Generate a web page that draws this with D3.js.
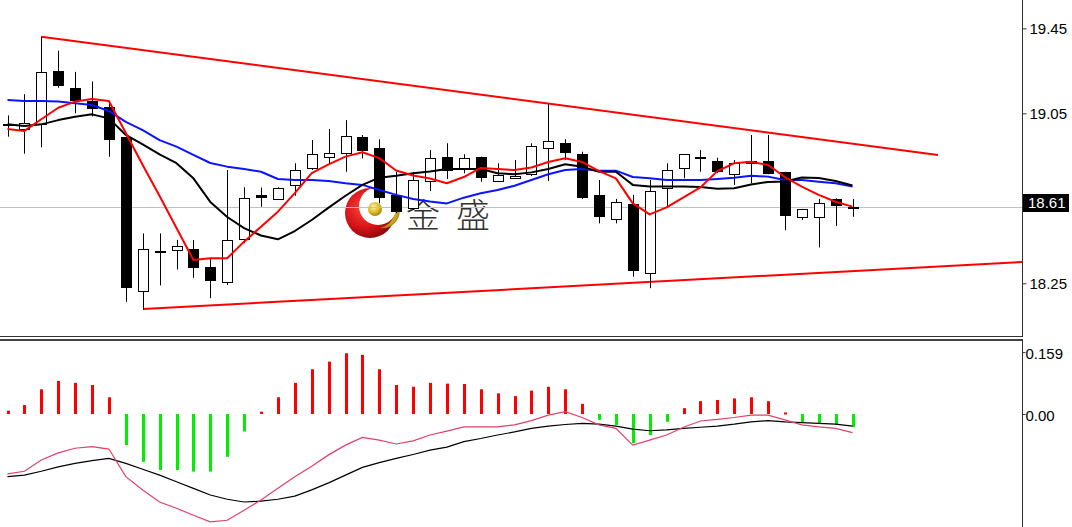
<!DOCTYPE html>
<html>
<head>
<meta charset="utf-8">
<script src="https://cdn.jsdelivr.net/npm/d3@7/dist/d3.min.js"></script>
<style>
html,body{margin:0;padding:0;background:#fff;}
svg{display:block;}
</style>
</head>
<body>
<svg id="chart" width="1072" height="527"></svg>
<script>
// ---------- data ----------
const opens = [18.995,18.975,19.00,19.25,19.17,19.108,19.08,18.94,18.215,18.40,18.407,18.41,18.328,18.258,18.457,18.666,18.647,18.713,18.794,18.846,18.862,18.94,18.888,18.666,18.603,18.731,18.846,18.791,18.846,18.731,18.744,18.763,18.888,18.909,18.858,18.666,18.551,18.622,18.297,18.697,18.794,18.843,18.826,18.764,18.815,18.826,18.775,18.563,18.563,18.645,18.603];
const highs = [19.04,19.14,19.41,19.345,19.245,19.20,19.10,18.94,18.485,18.485,18.454,18.454,18.37,18.783,18.702,18.70,18.702,18.815,18.924,18.976,19.018,18.948,18.928,18.774,18.774,18.877,18.909,18.857,18.846,18.815,18.83,18.909,19.094,18.928,18.869,18.736,18.647,18.666,18.736,18.815,18.857,18.877,18.841,18.83,18.948,18.948,18.775,18.60,18.647,18.65,18.647];
const lows = [18.94,18.86,18.89,19.17,19.05,19.035,18.845,18.163,18.125,18.24,18.315,18.276,18.18,18.242,18.438,18.61,18.645,18.662,18.783,18.81,18.775,18.838,18.627,18.58,18.595,18.684,18.741,18.768,18.728,18.731,18.744,18.755,18.731,18.83,18.647,18.532,18.532,18.281,18.227,18.606,18.744,18.775,18.769,18.713,18.72,18.763,18.50,18.548,18.419,18.52,18.563];
const closes = [19.00,19.005,19.245,19.18,19.108,19.07,18.925,18.227,18.41,18.402,18.426,18.32,18.262,18.454,18.653,18.65,18.697,18.783,18.857,18.862,18.945,18.873,18.65,18.584,18.736,18.838,18.78,18.838,18.744,18.76,18.756,18.896,18.92,18.862,18.65,18.563,18.634,18.308,18.684,18.783,18.857,18.845,18.775,18.815,18.826,18.763,18.568,18.60,18.629,18.614,18.61];

const maRed = [18.976,18.967,19.022,19.076,19.105,19.117,19.108,18.957,18.807,18.661,18.510,18.360,18.368,18.368,18.446,18.516,18.587,18.674,18.768,18.810,18.846,18.867,18.839,18.781,18.757,18.743,18.721,18.750,18.793,18.788,18.783,18.795,18.821,18.838,18.821,18.778,18.744,18.626,18.574,18.607,18.654,18.701,18.778,18.815,18.822,18.807,18.750,18.705,18.666,18.634,18.611];
const maBlack = [18.998,18.990,18.998,19.018,19.034,19.045,19.026,18.948,18.904,18.857,18.815,18.744,18.633,18.562,18.510,18.475,18.457,18.496,18.548,18.606,18.662,18.713,18.747,18.756,18.768,18.776,18.788,18.788,18.788,18.768,18.763,18.772,18.788,18.810,18.799,18.775,18.775,18.713,18.705,18.705,18.705,18.703,18.695,18.697,18.715,18.727,18.729,18.748,18.746,18.731,18.710];
const maBlue = [19.113,19.108,19.108,19.105,19.097,19.089,19.061,19.010,18.971,18.924,18.893,18.854,18.816,18.799,18.788,18.775,18.741,18.736,18.736,18.731,18.721,18.713,18.689,18.666,18.647,18.635,18.626,18.653,18.674,18.689,18.709,18.736,18.763,18.783,18.788,18.780,18.780,18.750,18.744,18.736,18.736,18.736,18.741,18.747,18.756,18.752,18.736,18.736,18.728,18.721,18.705];

const macdHist = [0.0085,0.023,0.0635,0.085,0.080,0.0745,0.043,-0.080,-0.123,-0.144,-0.144,-0.148,-0.148,-0.110,-0.045,0.006,0.043,0.080,0.115,0.1345,0.156,0.152,0.115,0.0745,0.070,0.080,0.078,0.077,0.0635,0.053,0.046,0.060,0.070,0.0635,0.026,-0.015,-0.028,-0.075,-0.054,-0.020,0.015,0.033,0.036,0.040,0.043,0.033,0.004,-0.022,-0.024,-0.028,-0.034];
const macdDif = [-0.154,-0.147,-0.118,-0.100,-0.088,-0.084,-0.090,-0.161,-0.195,-0.226,-0.242,-0.260,-0.277,-0.273,-0.247,-0.221,-0.191,-0.161,-0.134,-0.105,-0.080,-0.060,-0.067,-0.077,-0.069,-0.054,-0.044,-0.033,-0.033,-0.033,-0.028,-0.017,-0.003,0.006,-0.009,-0.028,-0.037,-0.080,-0.067,-0.054,-0.034,-0.018,-0.014,-0.009,-0.003,-0.003,-0.015,-0.028,-0.033,-0.037,-0.048];
const macdDea = [-0.161,-0.157,-0.147,-0.136,-0.127,-0.120,-0.114,-0.127,-0.142,-0.157,-0.174,-0.191,-0.208,-0.219,-0.226,-0.224,-0.219,-0.211,-0.195,-0.177,-0.157,-0.137,-0.125,-0.114,-0.104,-0.093,-0.085,-0.071,-0.063,-0.054,-0.046,-0.037,-0.031,-0.027,-0.024,-0.026,-0.031,-0.039,-0.043,-0.041,-0.037,-0.034,-0.031,-0.026,-0.020,-0.017,-0.020,-0.022,-0.024,-0.026,-0.031];

const trendUpper = [[2, 19.41], [55.06, 18.854]];
const trendLower = [[8.02, 18.129], [60.03, 18.350]];

const priceTicks = [19.45, 19.05, 18.65, 18.25];
const priceTickLabels = ["19.45", "19.05", "18.65", "18.25"];
const macdTicks = [0.159, 0];
const macdTickLabels = ["0.159", "0.00"];
const lastPrice = 18.61;
const lastPriceLabel = "18.61";
const watermarkText = ["金", "盛"];

// ---------- layout ----------
const W = 1072, H = 527;
const axisX = 1022;
const mainTop = 0, mainBottom = 337;
const subTop = 341, subBottom = 527;

const svg = d3.select("#chart");
const defs = svg.append("defs");
defs.append("clipPath").attr("id","clipMain").append("rect")
  .attr("x",0).attr("y",mainTop).attr("width",axisX).attr("height",mainBottom-mainTop);
defs.append("clipPath").attr("id","clipSub").append("rect")
  .attr("x",0).attr("y",subTop).attr("width",axisX).attr("height",subBottom-subTop);

const rg = defs.append("radialGradient").attr("id","redG").attr("cx","40%").attr("cy","40%").attr("r","65%");
rg.append("stop").attr("offset","0%").attr("stop-color","#ff4a3a");
rg.append("stop").attr("offset","60%").attr("stop-color","#d8141a");
rg.append("stop").attr("offset","100%").attr("stop-color","#8a0508");
const gg = defs.append("radialGradient").attr("id","goldG").attr("cx","40%").attr("cy","35%").attr("r","70%");
gg.append("stop").attr("offset","0%").attr("stop-color","#fff4a0");
gg.append("stop").attr("offset","55%").attr("stop-color","#e2bc2a");
gg.append("stop").attr("offset","100%").attr("stop-color","#9c7a08");

// scales
const x = d3.scaleLinear().domain([0, 50]).range([7.5, 852.5]);
const yP = d3.scaleLinear().domain([18.25, 19.45]).range([283.3, 28.3]);
const yM = d3.scaleLinear().domain([0, 0.159]).range([414, 352.1]);

svg.append("rect").attr("width",W).attr("height",H).attr("fill","#fff");

// ---------- main panel ----------
const main = svg.append("g").attr("clip-path","url(#clipMain)");

// watermark (behind everything)
const wm = main.append("g");
wm.append("circle").attr("cx",370).attr("cy",213).attr("r",25).attr("fill","url(#redG)");
wm.append("circle").attr("cx",378).attr("cy",206).attr("r",19).attr("fill","#fff");
wm.append("path")
  .attr("d","M392,197 A17,17 0 0 1 380,228 A20,20 0 0 0 392,197 Z")
  .attr("fill","url(#goldG)");
wm.append("circle").attr("cx",375).attr("cy",209).attr("r",7).attr("fill","url(#goldG)");
wm.selectAll("text.wm").data(watermarkText).enter().append("text")
  .attr("class","wm")
  .attr("x",(d,i)=>423 + i*50).attr("y",228)
  .attr("text-anchor","middle")
  .attr("font-family","'Noto Sans CJK SC','Noto Sans CJK JP',sans-serif")
  .attr("font-size",34).attr("font-weight",300)
  .attr("fill","#333")
  .text(d=>d);

// last price line
const yLast = Math.round(yP(lastPrice)) + 0.5;
main.append("line").attr("x1",0).attr("x2",axisX).attr("y1",yLast).attr("y2",yLast)
  .attr("stroke","#c0c0c0").attr("stroke-width",1);

// trend lines
const tline = d3.line().x(d=>x(d[0])).y(d=>yP(d[1]));
[trendUpper, trendLower].forEach(t=>{
  main.append("path").attr("d",tline(t)).attr("fill","none")
    .attr("stroke","#ff0000").attr("stroke-width",2);
});

// candles
const idx = d3.range(opens.length);
const cg = main.append("g");
idx.forEach(i=>{
  const cx = Math.round(x(i));
  const o = opens[i], c = closes[i], h = highs[i], l = lows[i];
  cg.append("line").attr("x1",cx+0.5).attr("x2",cx+0.5)
    .attr("y1",yP(h)).attr("y2",yP(l)).attr("stroke","#000").attr("stroke-width",1);
  const top = yP(Math.max(o,c)), bot = yP(Math.min(o,c));
  if (c >= o) {
    const t = Math.round(top)+0.5, b = Math.max(Math.round(bot)+0.5, t+1);
    cg.append("rect").attr("x",cx-4.5).attr("y",t).attr("width",10).attr("height",b-t)
      .attr("fill","#fff").attr("stroke","#000").attr("stroke-width",1);
  } else {
    const t = Math.round(top), b = Math.max(Math.round(bot), t+2);
    cg.append("rect").attr("x",cx-5).attr("y",t).attr("width",11).attr("height",b-t)
      .attr("fill","#000");
  }
});

// moving averages
const maLine = d3.line().x((d,i)=>x(i)).y(d=>yP(d));
[[maBlue,"#0a14ff"],[maBlack,"#000000"],[maRed,"#ff0000"]].forEach(([arr,col])=>{
  main.append("path").attr("d",maLine(arr)).attr("fill","none")
    .attr("stroke",col).attr("stroke-width",2).attr("stroke-linejoin","round");
});

// ---------- sub panel (MACD) ----------
const sub = svg.append("g").attr("clip-path","url(#clipSub)");
idx.forEach(i=>{
  const v = macdHist[i];
  const cx = Math.round(x(i));
  const y0 = yM(0), y1 = yM(v);
  sub.append("rect").attr("x",cx-1).attr("width",3)
    .attr("y",Math.min(y0,y1)).attr("height",Math.max(2,Math.abs(y1-y0)))
    .attr("fill", v >= 0 ? "#ff0000" : "#00ee00");
});
const mLine = d3.line().x((d,i)=>x(i)).y(d=>yM(d));
sub.append("path").attr("d",mLine(macdDea)).attr("fill","none").attr("stroke","#000").attr("stroke-width",1.2);
sub.append("path").attr("d",mLine(macdDif)).attr("fill","none").attr("stroke","#e0406a").attr("stroke-width",1.2);

// ---------- frame & axes ----------
svg.append("line").attr("x1",0).attr("x2",axisX).attr("y1",mainBottom-0.5).attr("y2",mainBottom-0.5)
  .attr("stroke","#333").attr("stroke-width",1);
svg.append("line").attr("x1",0).attr("x2",axisX).attr("y1",subTop-1).attr("y2",subTop-1)
  .attr("stroke","#444").attr("stroke-width",2);
svg.append("line").attr("x1",axisX+0.5).attr("x2",axisX+0.5).attr("y1",0).attr("y2",mainBottom)
  .attr("stroke","#333").attr("stroke-width",1);
svg.append("line").attr("x1",axisX+0.5).attr("x2",axisX+0.5).attr("y1",subTop-2).attr("y2",H)
  .attr("stroke","#333").attr("stroke-width",1);

const fontFam = "'Liberation Sans', Arial, sans-serif";
const pAxis = d3.axisRight(yP).tickValues(priceTicks).tickSize(4)
  .tickFormat((d,i)=>priceTickLabels[i]);
const pg = svg.append("g").attr("transform",`translate(${axisX+0.5},0)`).call(pAxis);
pg.select(".domain").remove();
pg.selectAll("text").attr("font-family",fontFam).attr("font-size",15).attr("fill","#000").attr("x",7).attr("dy","0.32em");
pg.selectAll("line").attr("stroke","#333");

const mAxis = d3.axisRight(yM).tickValues(macdTicks).tickSize(3)
  .tickFormat((d,i)=>macdTickLabels[i]);
const mg = svg.append("g").attr("transform",`translate(${axisX+0.5},0)`).call(mAxis);
mg.select(".domain").remove();
mg.selectAll("text").attr("font-family",fontFam).attr("font-size",15).attr("fill","#000").attr("x",3).attr("dy","0.42em");
mg.selectAll("line").attr("stroke","#333");

// last price label
const lpY = yP(lastPrice) - 3.8;
svg.append("rect").attr("x",axisX+1).attr("y",lpY-9).attr("width",46).attr("height",18).attr("fill","#000");
svg.append("text").attr("x",axisX+6).attr("y",lpY).attr("dy","0.36em")
  .attr("font-family",fontFam).attr("font-size",15).attr("fill","#fff").text(lastPriceLabel);
</script>
</body>
</html>
